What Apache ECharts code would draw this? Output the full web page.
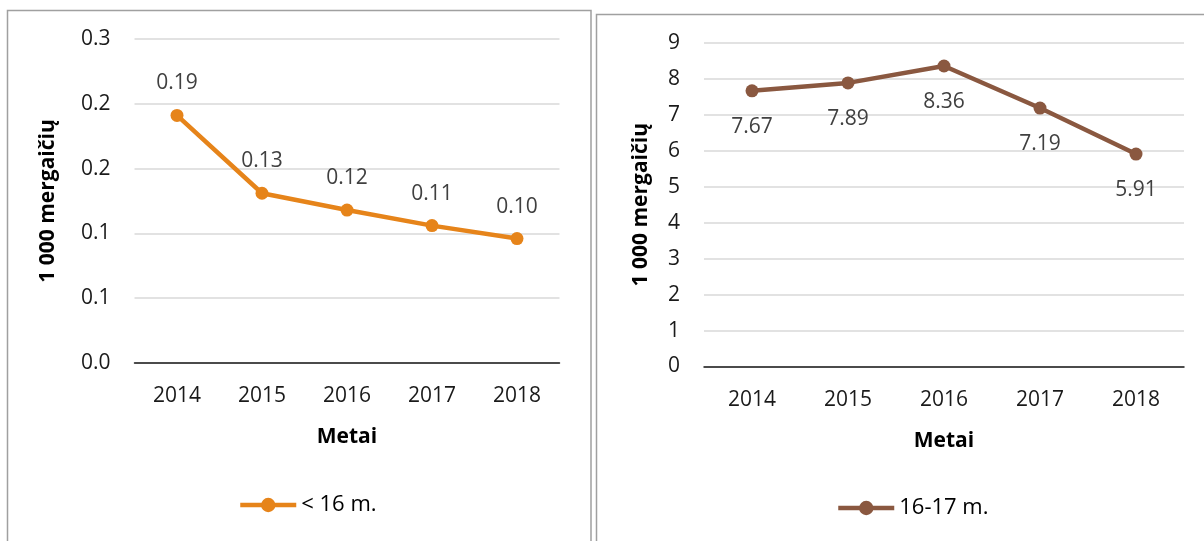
<!DOCTYPE html>
<html><head><meta charset="utf-8">
<script src="https://cdn.jsdelivr.net/npm/echarts@6/dist/echarts.min.js"></script>
<style>html,body{margin:0;padding:0;background:#fff}#c{width:1204px;height:541px}</style>
</head><body><div id="c"></div>
<script>
const years = ['2014','2015','2016','2017','2018'];
const under16 = [0.191, 0.131, 0.118, 0.106, 0.096];
const age1617 = [7.67, 7.89, 8.36, 7.19, 5.91];
const leftTickLabels = ['0.0','0.1','0.1','0.2','0.2','0.3'];
const rightTickLabels = ['0','1','2','3','4','5','6','7','8','9'];
const yTitle = '1 000 mergaičių';
const xTitle = 'Metai';
const seriesNames = ['< 16 m.', '16-17 m.'];

const FONT = '"Open Sans", "Noto Sans", sans-serif';
const orange = '#E6841A';
const brown = '#8A5840';

const chart = echarts.init(document.getElementById('c'), null, {renderer:'canvas'});
function xAxis(gi){
  return {type:'category', gridIndex:gi, data:years, boundaryGap:true,
    axisLine:{lineStyle:{color:'#1a1a1a', width:1.5}}, axisTick:{show:false},
    axisLabel:{color:'#1a1a1a', fontSize:21, fontFamily:FONT, margin:23},
    name:xTitle, nameLocation:'middle', nameGap:64,
    nameTextStyle:{color:'#000', fontSize:21, fontWeight:'bold', fontFamily:FONT}};
}
function yAxis(gi, max, interval, labels){
  return {type:'value', gridIndex:gi, min:0, max:max, interval:interval,
    axisLine:{show:false}, axisTick:{show:false},
    splitLine:{lineStyle:{color:'#d9d9d9', width:1.5}},
    axisLabel:{color:'#1a1a1a', fontSize:21, fontFamily:FONT, margin:24,
      formatter:(v)=>labels[Math.round(v/interval)]},
    name:yTitle, nameLocation:'middle', nameRotate:90,
    nameTextStyle:{color:'#000', fontSize:21, fontWeight:'bold', fontFamily:FONT}};
}
const yL = yAxis(0, 0.25, 0.05, leftTickLabels); yL.nameGap = 76;
const yR = yAxis(1, 9, 1, rightTickLabels); yR.nameGap = 52;

chart.setOption({
  animation:false,
  textStyle:{fontFamily:FONT},
  graphic:[
    {type:'rect', shape:{x:7.5, y:10.5, width:583.5, height:560}, style:{fill:'none', stroke:'#a0a0a0', lineWidth:1.5}, z:-1},
    {type:'rect', shape:{x:596.5, y:14.5, width:640, height:560}, style:{fill:'none', stroke:'#a0a0a0', lineWidth:1.5}, z:-1}
  ],
  grid:[
    {left:134.5, right:644.5, top:39, bottom:178, containLabel:false},
    {left:704, right:20, top:43, bottom:174.5, containLabel:false}
  ],
  legend:[
    {data:[seriesNames[0]], left:233, top:489, itemWidth:56, itemHeight:18, itemGap:3,
      lineStyle:{width:4.5}, itemStyle:{borderWidth:0},
      textStyle:{color:'#000', fontSize:22, fontFamily:FONT}},
    {data:[seriesNames[1]], left:831, top:492, itemWidth:56, itemHeight:18, itemGap:3,
      lineStyle:{width:4.5}, itemStyle:{borderWidth:0},
      textStyle:{color:'#000', fontSize:22, fontFamily:FONT}}
  ],
  xAxis:[xAxis(0), xAxis(1)],
  yAxis:[yL, yR],
  series:[
    {name:seriesNames[0], type:'line', xAxisIndex:0, yAxisIndex:0, data:under16,
      symbol:'circle', symbolSize:13, color:orange,
      lineStyle:{width:4.5, color:orange}, itemStyle:{color:orange},
      label:{show:true, position:'top', distance:15, color:'#404040', fontSize:21, fontFamily:FONT,
        formatter:(p)=>p.value.toFixed(2)}},
    {name:seriesNames[1], type:'line', xAxisIndex:1, yAxisIndex:1, data:age1617,
      symbol:'circle', symbolSize:13, color:brown,
      lineStyle:{width:4.5, color:brown}, itemStyle:{color:brown},
      label:{show:true, position:'bottom', distance:19, color:'#404040', fontSize:21, fontFamily:FONT,
        formatter:(p)=>p.value.toFixed(2)}}
  ]
});
</script></body></html>
